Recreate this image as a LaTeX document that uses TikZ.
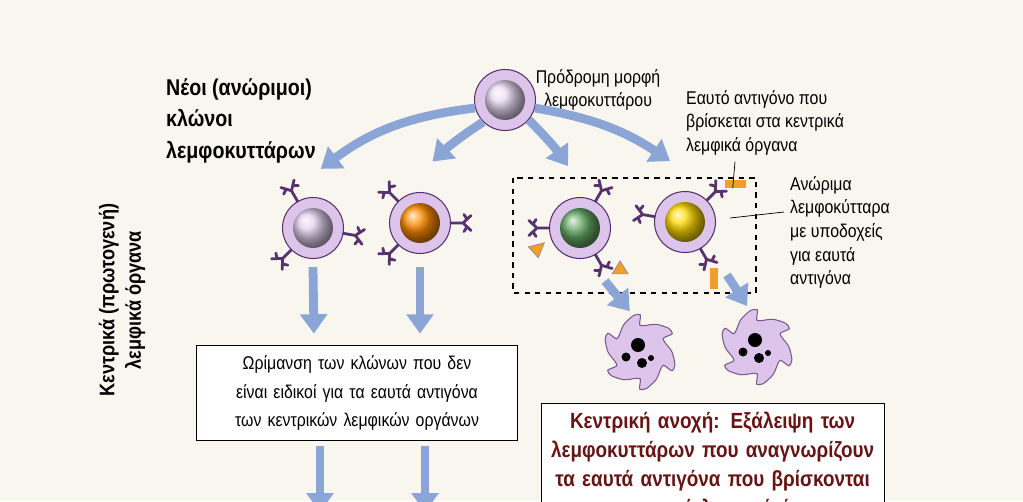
\documentclass[tikz,border=0pt]{standalone}
\usepackage{fontspec}
\setmainfont[FakeStretch=0.86]{Liberation Sans}
\usetikzlibrary{arrows.meta,calc,positioning}
\definecolor{lmbg}{RGB}{248,246,238}
\definecolor{lmlilac}{RGB}{221,196,235}
\definecolor{lmpurple}{RGB}{86,50,110}
\definecolor{lmarrow}{RGB}{140,165,215}
\definecolor{lmorange}{RGB}{240,160,40}
\definecolor{lmdarkred}{RGB}{105,20,20}
\begin{document}
\begin{tikzpicture}[x=0.02cm,y=-0.02cm,
  cell/.style={draw=lmpurple, circle, fill=lmlilac, minimum size=1.22cm, line width=0.6pt},
  core/.style={circle, minimum size=0.8cm, inner sep=0pt},
  fat/.style={draw=lmarrow, line width=5pt, -{Triangle[width=15pt,length=11pt]}, shorten >=2pt},
  infobox/.style={draw, fill=white, align=center, inner sep=6pt},
  lbl/.style={align=left, font=\fontsize{10.5}{13.5}\selectfont},
  pics/recep/.style={code={
    \draw[lmpurple, line width=1.6pt, line cap=round]
      (0,0) -- (0.24cm,0) -- (0.4cm,0.15cm) (0.24cm,0) -- (0.4cm,-0.15cm)
      (0.32cm,0.075cm) -- (0.26cm,0.17cm) (0.32cm,-0.075cm) -- (0.26cm,-0.17cm);}}]
\useasboundingbox (0,0) rectangle (1023,501);
\clip (0,0) rectangle (1023,501);
\fill[lmbg] (0,0) rectangle (1023,501);

% Titles
\node[lbl, anchor=north west, font=\bfseries\fontsize{13}{18}\selectfont] (title) at (160,72)
  {Νέοι (ανώριμοι)\\κλώνοι\\λεμφοκυττάρων};
\node[rotate=90, align=center, font=\bfseries\fontsize{12}{15}\selectfont] (organs) at (122,300)
  {Κεντρικά (πρωτογενή)\\λεμφικά όργανα};

% Progenitor
\node[cell] (top) at (505,100) {};
\node[core, ball color=lmlilac!60!white] at (top) {};
\node[lbl, align=center] (toplbl) at (598,90) {Πρόδρομη μορφή\\λεμφοκυττάρου};

% Clones
\node[cell] (c1) at (313,228) {};
\node[core, ball color=lmlilac!80!white] at (c1) {};
\node[cell] (c2) at (420,223) {};
\node[core, ball color=orange!90!yellow] at (c2) {};
\node[cell] (c3) at (580,228) {};
\node[core, ball color=green!45!black!60!white] at (c3) {};
\node[cell] (c4) at (685,222) {};
\node[core, ball color=yellow!70!orange] at (c4) {};

% Receptors
\foreach \c/\a in {c1/120,c1/-10,c1/225,c2/135,c2/0,c2/225,c3/180,c3/60,c3/-60,c4/170,c4/45,c4/-60}
  \pic[rotate=\a] at (\c.\a) {recep};

% Self antigens
\fill[lmorange, draw=lmpurple!60] ($(c3)+(200:1.1cm)$) -- ++(0.32cm,0.08cm) -- ++(-0.12cm,-0.3cm) -- cycle;
\fill[lmorange, draw=lmpurple!60] ($(c3)+(-55:1.12cm)$) -- ++(0.32cm,0) -- ++(-0.16cm,0.26cm) -- cycle;
\fill[lmorange] ($(c4)+(40:1.05cm)$) rectangle ++(0.42cm,0.16cm);
\fill[lmorange] ($(c4)+(-62:1.05cm)$) rectangle ++(0.16cm,-0.42cm);

% Dashed group
\draw[dashed, line width=1.3pt] (513,178) rectangle (756,293);

% Arrows from progenitor
\draw[fat] (top.195) to[bend right=15] ($(c1.north)+(5,-26)$);
\draw[fat] (top.225) to[bend right=5] ($(c2.north)+(10,-28)$);
\draw[fat] (top.-40) to[bend left=5] ($(c3.north)+(-10,-28)$);
\draw[fat] (top.-15) to[bend left=12] ($(c4.north)+(-12,-28)$);

% Dying cells
\foreach \n/\px/\py in {d1/640/352,d2/757/347}{
  \coordinate (\n) at (\px,\py);
  \fill[lmlilac, draw=lmpurple!80, line width=0.6pt]
    plot[smooth cycle, domain=0:350, samples=36] ({\px+(32+6*sin(6*\x))*cos(\x+12*sin(6*\x))},{\py+(32+6*sin(6*\x))*sin(\x+12*sin(6*\x))});
  \fill (\px-2,\py-7) circle (7);
  \fill (\px-14,\py+5) circle (4.5);
  \fill (\px+2,\py+11) circle (5);
  \fill (\px+11,\py+6) circle (3);
}

% Boxes
\node[infobox, text width=6cm, font=\fontsize{10.5}{16}\selectfont] (mature) at (357,393)
  {Ωρίμανση των κλώνων που δεν είναι ειδικοί για τα εαυτά αντιγόνα των κεντρικών λεμφικών οργάνων};
\node[infobox, anchor=north west, text width=6.5cm, text=lmdarkred, font=\bfseries\fontsize{12.5}{16.5}\selectfont, inner sep=5pt] (tolerance) at (541,403)
  {Κεντρική ανοχή: Εξάλειψη των λεμφοκυττάρων που αναγνωρίζουν τα εαυτά αντιγόνα που βρίσκονται στα κεντρικά λεμφικά όργανα};

% Down arrows
\draw[fat] ($(c1.south)+(0,8)$) -- ($(mature.north)+(-43,-8)$);
\draw[fat] ($(c2.south)+(0,13)$) -- ($(mature.north)+(63,-8)$);
\draw[fat] ($(c3.south)+(25,22)$) -- ($(d1)+(-8,-38)$);
\draw[fat] ($(c4.south)+(42,22)$) -- ($(d2)+(-8,-38)$);
\draw[fat] ($(mature.south)+(-37,5)$) -- ++(0,70);
\draw[fat] ($(mature.south)+(68,5)$) -- ++(0,70);

% Side labels
\node[lbl, anchor=north west] (selfag) at (680,84) {Εαυτό αντιγόνο που\\βρίσκεται στα κεντρικά\\λεμφικά όργανα};
\node[lbl, anchor=north west] (immature) at (784,170) {Ανώριμα\\λεμφοκύτταρα\\με υποδοχείς\\για εαυτά\\αντιγόνα};
\draw[thin] (selfag.south west) ++(55,0) -- ($(c4)+(40:1.05cm)+(0.15cm,0)$);
\draw[thin] ($(immature.north west)+(0,42)$) -- (730,218);
\end{tikzpicture}
\end{document}
